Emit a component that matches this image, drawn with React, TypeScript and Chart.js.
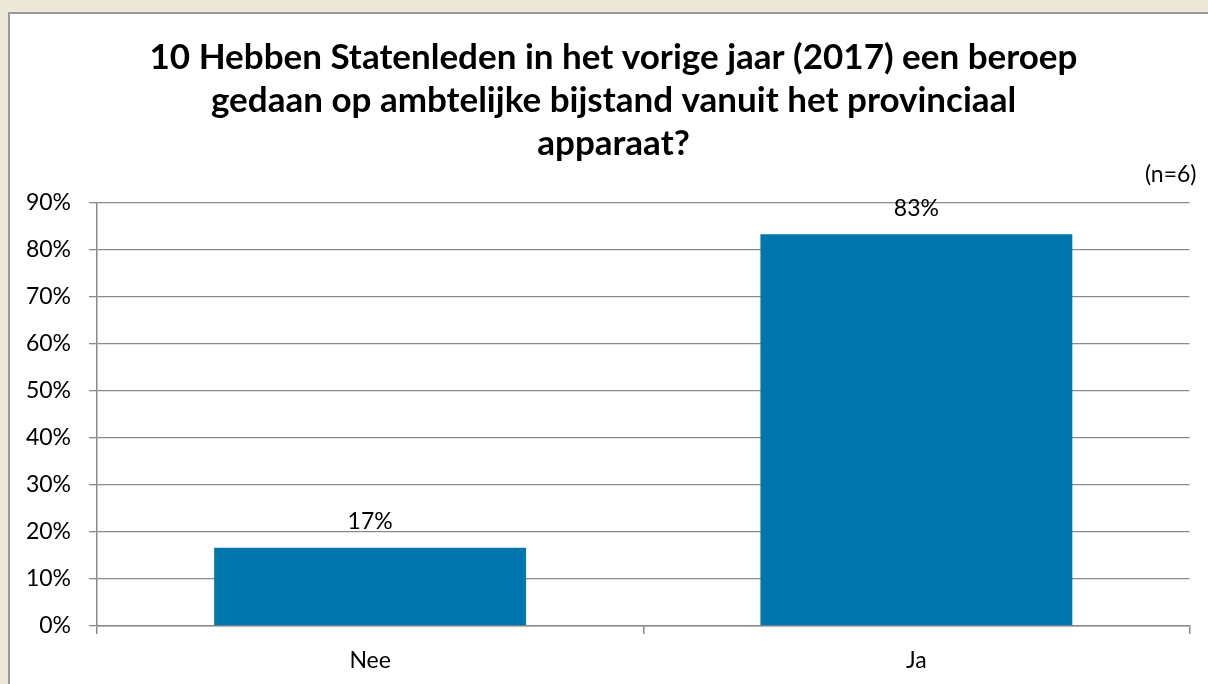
import React, { useEffect, useRef } from "react";
import { Chart, registerables } from "chart.js";

Chart.register(...registerables);

const categories: string[] = ["Nee", "Ja"];
const values: number[] = [16.67, 83.33];
const valueLabels: string[] = ["17%", "83%"];
const titleLines: string[] = [
  "10 Hebben Statenleden in het vorige jaar (2017) een beroep",
  "gedaan op ambtelijke bijstand vanuit het provinciaal",
  "apparaat?",
];
const sampleNote = "(n=6)";
const yMin = 0;
const yMax = 90;
const yStep = 10;

const FONT = "Lato, 'Open Sans', sans-serif";
const GRID = "#8a8a8a";
const BAR = "#0077AC";
const LABEL_SIZE = 23;

export default function App() {
  const ref = useRef<HTMLCanvasElement | null>(null);

  useEffect(() => {
    if (!ref.current) return;
    const extras = {
      id: "extras",
      afterLayout(chart: any) {
        // let the y tick labels use the space left of the layout padding
        chart.scales.y.left = 0;
      },
      afterDatasetsDraw(chart: any) {
        const ctx = chart.ctx;
        const meta = chart.getDatasetMeta(0);
        ctx.save();
        ctx.font = `${LABEL_SIZE}px ${FONT}`;
        ctx.fillStyle = "#000";
        ctx.textAlign = "center";
        ctx.textBaseline = "middle";
        meta.data.forEach((bar: any, i: number) => {
          ctx.fillText(valueLabels[i], bar.x, bar.y - 26);
        });
        ctx.textAlign = "right";
        ctx.fillText(sampleNote, chart.chartArea.right + 7, chart.chartArea.top - 28);
        ctx.restore();
      },
    };

    const chart = new Chart(ref.current, {
      type: "bar",
      data: {
        labels: categories,
        datasets: [
          {
            data: values,
            backgroundColor: BAR,
            borderWidth: 0,
            categoryPercentage: 0.571,
            barPercentage: 1,
          },
        ],
      },
      options: {
        responsive: false,
        animation: false,
        layout: { padding: { left: 37.5, right: 18.5, top: 0, bottom: 0 } },
        plugins: {
          legend: { display: false },
          tooltip: { enabled: false },
          title: {
            display: true,
            text: titleLines,
            color: "#000",
            font: { family: FONT, size: 35, weight: "bold", lineHeight: "43px" } as any,
            padding: { top: 22.5, bottom: 37.5 },
          },
        },
        scales: {
          x: {
            grid: {
              offset: true,
              drawOnChartArea: false,
              drawTicks: true,
              tickLength: 8,
              color: GRID,
              lineWidth: 1.5,
            },
            border: { display: true, color: GRID, width: 1.5 },
            ticks: { color: "#000", font: { family: FONT, size: LABEL_SIZE }, padding: 13 },
            afterFit(scale: any) {
              scale.height = 58;
            },
          },
          y: {
            min: yMin,
            max: yMax,
            grid: { color: GRID, lineWidth: 1.3, tickLength: 8 },
            border: { display: true, color: GRID, width: 1.5 },
            ticks: {
              stepSize: yStep,
              color: "#000",
              font: { family: FONT, size: LABEL_SIZE },
              padding: 18,
              callback: (v: any) => `${v}%`,
            },
            afterFit(scale: any) {
              scale.width = 59.5;
            },
          },
        },
      },
      plugins: [extras],
    });
    return () => chart.destroy();
  }, []);

  return (
    <div style={{ position: "fixed", left: 0, top: 0, right: 0, bottom: 0, background: "#ECE9D8", overflow: "hidden" }}>
      <div
        style={{
          position: "absolute",
          left: 8,
          top: 12,
          right: 0,
          bottom: 0,
          background: "#fff",
          borderLeft: "2px solid #9a9a9a",
          borderTop: "2px solid #9a9a9a",
        }}
      />
      <canvas
        ref={ref}
        width={1208}
        height={670}
        style={{ position: "absolute", left: 0, top: 14, display: "block", width: 1208, height: 670 }}
      />
    </div>
  );
}
